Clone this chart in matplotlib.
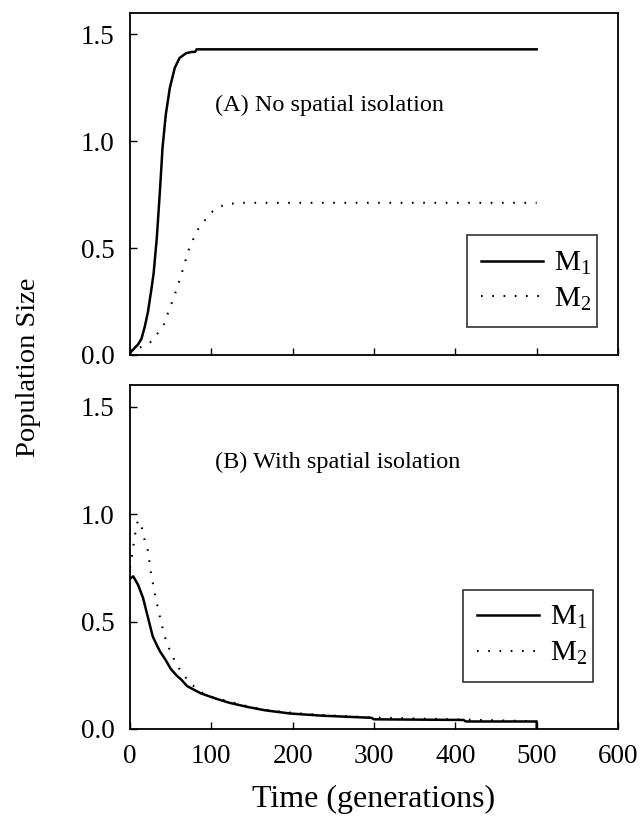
import matplotlib
matplotlib.use("Agg")
import matplotlib.pyplot as plt
from matplotlib.lines import Line2D

plt.rcParams['font.family'] = ['Liberation Serif', 'DejaVu Serif']
plt.rcParams['mathtext.fontset'] = 'custom'
plt.rcParams['mathtext.rm'] = 'Liberation Serif'
plt.rcParams['mathtext.it'] = 'Liberation Serif:italic'

# Panel A: no spatial isolation
tA_m1 = [0, 5, 10, 14, 18, 22, 26, 29, 33, 37, 40, 44, 49, 55, 61, 69, 76, 80, 82, 500]
yA_m1 = [0.01, 0.03, 0.05, 0.075, 0.13, 0.2, 0.3, 0.38, 0.55, 0.78, 0.97, 1.125, 1.25,
         1.343, 1.39, 1.412, 1.418, 1.418, 1.43, 1.43]
tA_m2 = [0, 8, 15, 22, 29, 35, 42, 46, 52, 58, 65, 72, 82, 92, 102, 116, 135, 500]
yA_m2 = [0.01, 0.028, 0.04, 0.05, 0.073, 0.107, 0.145, 0.19, 0.25, 0.315, 0.40, 0.49,
         0.58, 0.63, 0.673, 0.704, 0.712, 0.712]

# Panel B: with spatial isolation
tB_m1 = [0, 4, 10, 16, 22, 28, 33, 37, 44, 50, 57, 63, 70, 87, 105, 122, 144, 166, 197,
         236, 297, 300, 410, 413, 500, 500]
yB_m1 = [0.70, 0.71, 0.67, 0.61, 0.52, 0.43, 0.39, 0.36, 0.32, 0.28, 0.25, 0.23, 0.20,
         0.166, 0.142, 0.122, 0.103, 0.087, 0.072, 0.062, 0.052, 0.045, 0.042, 0.035,
         0.035, 0.0]
tB_m2 = [0, 3, 6, 9, 12, 15, 18, 22, 26, 30, 35, 39, 45, 57, 66, 75, 88, 100, 114, 130,
         150, 175, 200, 236, 300, 420, 500]
yB_m2 = [0.75, 0.82, 0.90, 0.96, 0.97, 0.93, 0.88, 0.83, 0.72, 0.64, 0.55, 0.485, 0.40,
         0.30, 0.25, 0.21, 0.17, 0.15, 0.135, 0.12, 0.10, 0.085, 0.075, 0.065, 0.053,
         0.043, 0.036]

x_ticks = [0, 100, 200, 300, 400, 500, 600]
y_ticks = [0.0, 0.5, 1.0, 1.5]
labels = [r'$\mathrm{M}_{1}$', r'$\mathrm{M}_{2}$']

fig = plt.figure(figsize=(6.42, 8.16), dpi=100)
L, R = 130 / 642, 618 / 642
H = 816
axA = fig.add_axes([L, 1 - 355 / H, R - L, (355 - 13) / H])
axB = fig.add_axes([L, 1 - 729 / H, R - L, (729 - 385) / H])

dot = (0, (0.8, 4.6))
specs = [
    (axA, (tA_m1, yA_m1, tA_m2, yA_m2), '(A) No spatial isolation', 1.17, (0.69, 0.067, 0.267, 0.297)),
    (axB, (tB_m1, yB_m1, tB_m2, yB_m2), '(B) With spatial isolation', 1.24, (0.682, 0.122, 0.267, 0.298)),
]
for ax, (t1, y1, t2, y2), txt, ty, bb in specs:
    ax.plot(t2, y2, color='black', lw=1.5, linestyle=dot)
    ax.plot(t1, y1, color='black', lw=1.8)
    ax.set_xlim(0, 600)
    ax.set_ylim(0, 1.6)
    ax.set_xticks(x_ticks)
    ax.set_yticks(y_ticks)
    ax.yaxis.set_major_formatter(matplotlib.ticker.FormatStrFormatter('%.1f'))
    ax.tick_params(direction='in', length=5, width=1, labelsize=19.5, pad=11,
                   top=False, right=False)
    for s in ax.spines.values():
        s.set_linewidth(1.3)
    ax.text(104, ty, txt, fontsize=17.5, va='center', ha='left')
    handles = [Line2D([], [], color='black', lw=1.8),
               Line2D([], [], color='black', lw=1.5, linestyle=dot)]
    leg = ax.legend(handles, labels, loc='center', bbox_to_anchor=bb,
                    mode='expand', fontsize=21, frameon=True, fancybox=False,
                    edgecolor='black', handlelength=2.1, borderpad=0.5,
                    labelspacing=0.3, handletextpad=0.4, borderaxespad=0)
    leg.get_frame().set_linewidth(1.2)

axA.tick_params(labelbottom=False)
fig.text(0.045, 0.55, 'Population Size', rotation=90, fontsize=20.5, ha='center', va='center')
fig.text((L + R) / 2, 0.02, 'Time (generations)', fontsize=23, ha='center', va='center')

fig.savefig('out.png', dpi=100)
